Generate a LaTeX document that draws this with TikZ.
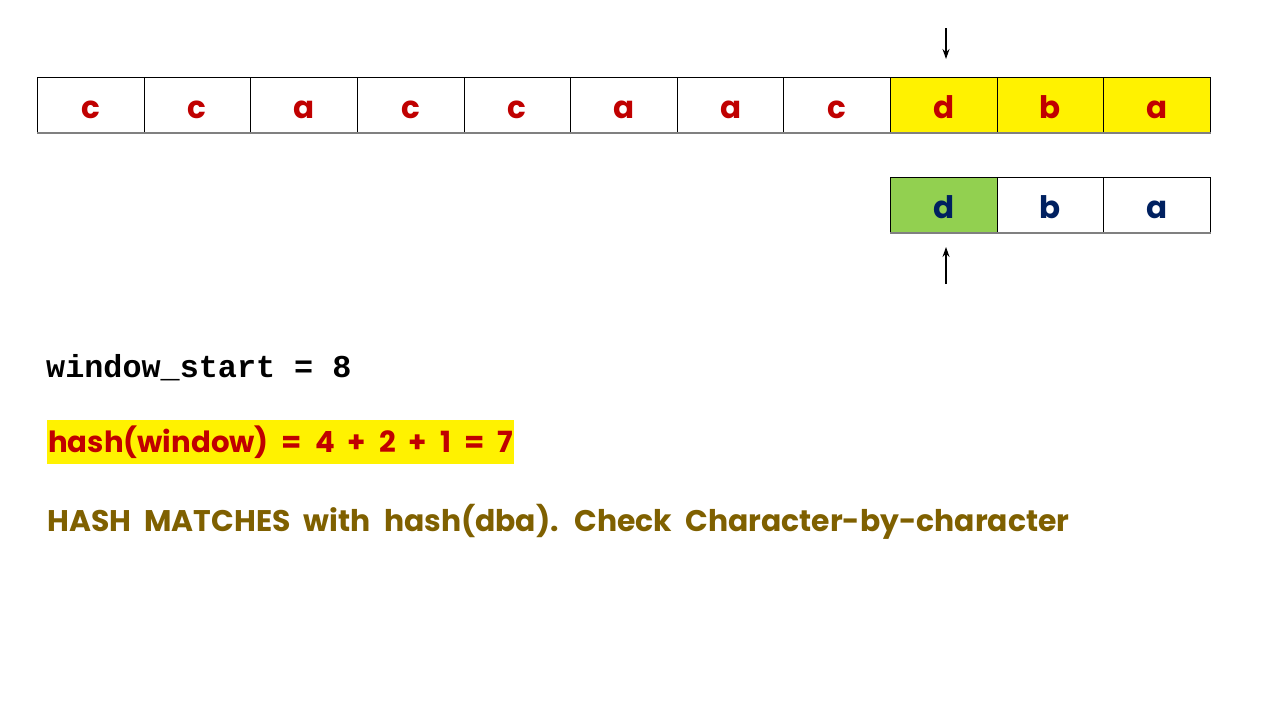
\documentclass[tikz,border=0pt]{standalone}
\usepackage{fontspec}
\setmainfont{Poppins}
\setmonofont{Liberation Mono}
\newfontfamily\widesp{Poppins}[WordSpace=2.1]
\usetikzlibrary{arrows.meta}
\definecolor{cred}{HTML}{C00000}
\definecolor{cnavy}{HTML}{002060}
\definecolor{cgreen}{HTML}{92D050}
\definecolor{colive}{HTML}{7F6000}
\begin{document}
\begin{tikzpicture}[x=1pt,y=-1pt,
  cell/.style={draw=black, line width=0.8pt, minimum width=106.64pt, minimum height=55pt,
    inner sep=0pt, text height=27pt, text depth=0pt, anchor=north west,
    font=\bfseries\fontsize{31}{31}\selectfont, text=cred},
  yel/.style={cell, fill=yellow},
  pat/.style={cell, text=cnavy},
  ptr/.style={line width=1.2pt, -{Stealth[length=10pt,width=7pt]}},
  lbl/.style={anchor=west, inner sep=0pt}]
\useasboundingbox (0,0) rectangle (1280,720);
% text row
\node[cell] (t0) at (37,77) {c};
\node[cell] (t1) at (143.64,77) {c};
\node[cell] (t2) at (250.28,77) {a};
\node[cell] (t3) at (356.92,77) {c};
\node[cell] (t4) at (463.56,77) {c};
\node[cell] (t5) at (570.2,77) {a};
\node[cell] (t6) at (676.84,77) {a};
\node[cell] (t7) at (783.48,77) {c};
\node[yel] (t8) at (890.12,77) {d};
\node[yel] (t9) at (996.76,77) {b};
\node[yel] (t10) at (1103.4,77) {a};
\draw[gray, line width=1.6pt] (t0.south west) -- (t10.south east);
% pattern row
\node[pat, fill=cgreen] (p0) at (890.12,177) {d};
\node[pat] (p1) at (996.76,177) {b};
\node[pat] (p2) at (1103.4,177) {a};
\draw[gray, line width=1.6pt] (p0.south west) -- (p2.south east);
% pointers
\coordinate (ptA) at (946,28);
\coordinate (ptB) at (946,59);
\coordinate (ptC) at (946,284);
\coordinate (ptD) at (946,247);
\draw[ptr] (ptA) -- (ptB);
\draw[ptr] (ptC) -- (ptD);
% labels
\node[lbl, font=\ttfamily\bfseries\fontsize{31.8}{32}\selectfont] (ws) at (46,368) {window\_start = 8};
\node[anchor=west, fill=yellow, inner xsep=1pt, inner ysep=6pt, text=cred,
  font=\widesp\bfseries\fontsize{29.2}{29.2}\selectfont] (hw) at (47,442) {hash(window) = 4 + 2 + 1 = 7};
\node[lbl, text=colive, font=\widesp\bfseries\fontsize{29.85}{29.85}\selectfont] (hm) at (47,522)
  {HASH MATCHES with hash(dba). Check Character-by-character};
\end{tikzpicture}
\end{document}
